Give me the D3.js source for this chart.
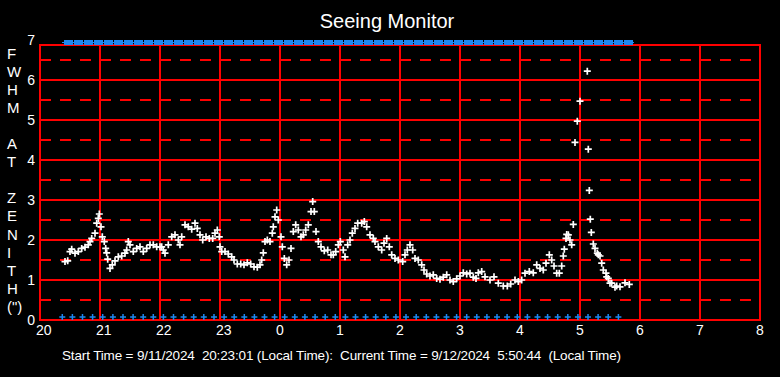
<!DOCTYPE html>
<html>
<head>
<meta charset="utf-8">
<script src="https://cdn.jsdelivr.net/npm/d3@7"></script>
<style>
  body { margin: 0; background: #000; }
  svg { display: block; }
  text { font-family: "Liberation Sans", Arial, sans-serif; fill: #fff; }
</style>
</head>
<body>
<svg id="chart" width="780" height="377"></svg>
<script>
// minutes after 20:00 local time, FWHM at zenith (arcsec)
var obsMinutes = [25, 27.7, 30, 31.7, 35, 38.3, 41.7, 45, 48.3, 50, 51.7, 55, 56.7, 58.3, 59.3, 61, 62.3, 64.3, 65.7, 66.7, 67.7, 70, 72.3, 75, 78.3, 81.7, 85, 86.7, 88.3, 90, 93.3, 96.7, 100, 103.3, 106.7, 110, 113.3, 116.7, 120, 121.7, 123.3, 125, 128.3, 131.7, 135, 138.3, 140, 141.7, 145, 148.3, 151.7, 155, 157.3, 160, 162.7, 166, 169.3, 172.7, 175, 177.3, 179.3, 180, 181.7, 185, 188.3, 191.7, 194, 197.3, 200.7, 204, 207.3, 210.7, 214, 217.3, 220, 221.7, 223.3, 225, 227.3, 230, 232.3, 233.3, 235, 236.7, 238.3, 241, 242.3, 244.3, 246.7, 249, 251, 253.3, 255.7, 258.3, 261, 263.3, 265.7, 268.3, 271, 272.7, 274.3, 276, 278.3, 281, 284.3, 287.7, 291, 293.3, 295.7, 298.3, 300.3, 303.3, 305, 307.7, 310, 312.3, 315, 317.7, 321.7, 324.3, 326.7, 330, 333.3, 335, 338.3, 341.7, 344, 346.7, 349.3, 351.7, 355, 358.3, 362.7, 365, 367.3, 370, 372.7, 375, 378.3, 381.7, 384, 386.7, 390, 393.3, 396.7, 400, 403.3, 406.7, 410, 413.3, 416.7, 420, 423.3, 426.7, 430, 433.3, 436, 438.3, 441.7, 445, 450, 454, 458.3, 463.3, 467.3, 470.7, 475, 478.3, 481.7, 485, 489.3, 493.3, 496.7, 500, 503.3, 506, 509.3, 511.7, 514, 516.7, 519.3, 521.7, 523.3, 524.3, 526, 526.7, 528.3, 530, 531.7, 533.3, 535, 537.3, 540, 547.3, 548.3, 549.3, 550.3, 551.3, 553.3, 555, 557.3, 558.3, 560, 561.7, 563.3, 566, 566.7, 568.3, 570, 571.7, 575, 576.7, 580, 585, 589.3];
var fwhm = [1.46, 1.48, 1.71, 1.77, 1.67, 1.71, 1.79, 1.82, 1.88, 1.96, 2.04, 2.17, 2.42, 2.54, 2.65, 2.33, 2.08, 1.96, 1.79, 1.68, 1.52, 1.29, 1.38, 1.48, 1.58, 1.60, 1.67, 1.75, 1.96, 1.88, 1.71, 1.79, 1.83, 1.71, 1.79, 1.88, 1.88, 1.83, 1.83, 1.83, 1.75, 1.67, 1.88, 2.08, 2.13, 2.00, 1.88, 2.08, 2.38, 2.33, 2.27, 2.42, 2.29, 2.13, 2.00, 2.08, 2.04, 2.04, 2.17, 2.25, 2.08, 1.83, 1.71, 1.71, 1.65, 1.58, 1.50, 1.40, 1.40, 1.38, 1.43, 1.40, 1.33, 1.32, 1.38, 1.50, 1.68, 1.96, 2.00, 1.96, 2.17, 2.33, 2.58, 2.75, 2.50, 2.08, 1.83, 1.54, 1.38, 1.50, 1.79, 2.21, 2.38, 2.25, 2.08, 2.13, 2.25, 2.38, 2.71, 2.96, 2.71, 2.21, 1.96, 1.83, 1.73, 1.75, 1.63, 1.63, 1.71, 1.88, 1.96, 1.75, 1.58, 1.88, 2.00, 2.17, 2.29, 2.42, 2.42, 2.46, 2.33, 2.13, 2.04, 1.96, 1.83, 1.75, 1.92, 2.04, 1.83, 1.63, 1.54, 1.50, 1.46, 1.63, 1.75, 1.88, 1.75, 1.54, 1.50, 1.38, 1.25, 1.15, 1.10, 1.13, 1.04, 1.02, 1.07, 1.13, 1.00, 0.96, 1.03, 1.10, 1.18, 1.15, 1.17, 1.07, 1.04, 1.18, 1.21, 1.08, 1.00, 1.08, 0.92, 0.85, 0.85, 0.90, 1.00, 0.96, 1.00, 1.17, 1.21, 1.18, 1.38, 1.29, 1.25, 1.42, 1.63, 1.50, 1.35, 1.17, 1.17, 1.35, 1.60, 1.77, 2.04, 2.14, 2.13, 2.00, 1.88, 2.39, 4.44, 4.97, 5.47, 6.22, 4.27, 3.24, 2.52, 2.19, 1.90, 1.79, 1.67, 1.63, 1.60, 1.42, 1.25, 1.17, 1.08, 1.04, 0.92, 0.92, 0.82, 0.85, 0.83, 0.93, 0.89];
// status markers (minutes after 20:00)
var topMarkMinutes = [28, 38, 48, 58, 68, 78, 88, 98, 108, 118, 128, 138, 148, 158, 168, 178, 188, 198, 208, 218, 228, 238, 248, 258, 268, 278, 288, 298, 308, 318, 328, 338, 348, 358, 368, 378, 388, 398, 408, 418, 428, 438, 448, 458, 468, 478, 488, 498, 508, 518, 528, 538, 548, 558, 568, 578, 588];
var bottomMarkMinutes = [22.3, 32.4, 42.5, 52.6, 62.7, 72.9, 83.0, 93.1, 103.2, 113.3, 123.4, 133.5, 143.6, 153.7, 163.8, 174.0, 184.1, 194.2, 204.3, 214.4, 224.5, 234.6, 244.7, 254.8, 264.9, 275.1, 285.2, 295.3, 305.4, 315.5, 325.6, 335.7, 345.8, 355.9, 366.0, 376.2, 386.3, 396.4, 406.5, 416.6, 426.7, 436.8, 446.9, 457.0, 467.1, 477.3, 487.4, 497.5, 507.6, 517.7, 527.8, 537.9, 548.0, 558.1, 568.2, 578.4];
var hourTicks = [20, 21, 22, 23, 24, 25, 26, 27, 28, 29, 30, 31, 32];
var fwhmTicks = [0, 1, 2, 3, 4, 5, 6, 7];
var halfTicks = [0.5, 1.5, 2.5, 3.5, 4.5, 5.5, 6.5];
var yLabelLetters = ["F", "W", "H", "M", "", "A", "T", "", "Z", "E", "N", "I", "T", "H", "(\")"];
var titleText = "Seeing Monitor";
var footerText = "Start Time = 9/11/2024  20:23:01 (Local Time):  Current Time = 9/12/2024  5:50:44  (Local Time)";

var red = "#ff0000", blue = "#1e88f0";
var svg = d3.select("#chart");
svg.append("rect").attr("width", 780).attr("height", 377).attr("fill", "#000");

var x = d3.scaleLinear().domain([20, 32]).range([40, 760]);
var y = d3.scaleLinear().domain([0, 7]).range([320, 40]);
var plotTop = 45;
function hr(m) { return 20 + m / 60; }

var grid = svg.append("g").attr("shape-rendering", "crispEdges");
//dashed half lines
grid.selectAll(".half").data(halfTicks).enter().append("line")
    .attr("x1", x(20)).attr("x2", x(32))
    .attr("y1", function(d) { return y(d); }).attr("y2", function(d) { return y(d); })
    .attr("stroke", red).attr("stroke-width", 1.4).attr("stroke-dasharray", "11,9");
//solid lines
grid.selectAll(".hline").data(fwhmTicks.filter(function(d) { return d > 0 && d < 7; })).enter().append("line")
    .attr("x1", x(20)).attr("x2", x(32))
    .attr("y1", function(d) { return y(d); }).attr("y2", function(d) { return y(d); })
    .attr("stroke", red).attr("stroke-width", 1.4);
grid.selectAll(".vline").data(hourTicks).enter().append("line")
    .attr("x1", function(d) { return x(d); }).attr("x2", function(d) { return x(d); })
    .attr("y1", plotTop).attr("y2", y(0))
    .attr("stroke", red).attr("stroke-width", 1.4);
grid.append("rect")
    .attr("x", x(20)).attr("y", plotTop)
    .attr("width", x(32) - x(20)).attr("height", y(0) - plotTop)
    .attr("fill", "none").attr("stroke", red).attr("stroke-width", 1.4);

//tick labels
svg.selectAll(".xl").data(hourTicks).enter().append("text")
    .attr("x", function(d) { return x(d) - 4; }).attr("y", 335)
    .style("font-size", "14px")
    .text(function(d) { return d % 24; });
svg.selectAll(".yl").data(fwhmTicks).enter().append("text")
    .attr("x", 35).attr("y", function(d) { return y(d); })
    .attr("dy", "0.36em").attr("text-anchor", "end")
    .style("font-size", "14px")
    .text(function(d) { return d; });
svg.selectAll(".yt").data(yLabelLetters).enter().append("text")
    .attr("x", 7).attr("y", function(d, i) { return 58.5 + i * 18.1; })
    .style("font-size", "15px")
    .text(function(d) { return d; });

svg.append("text").attr("x", 387).attr("y", 28).attr("text-anchor", "middle")
    .style("font-size", "20px").text(titleText);
svg.append("text").attr("x", 62).attr("y", 360)
    .attr("xml:space", "preserve").style("white-space", "pre")
    .attr("textLength", 559).attr("lengthAdjust", "spacing")
    .style("font-size", "13.5px").text(footerText);

//status markers, top
var topG = svg.append("g").attr("fill", blue).attr("shape-rendering", "crispEdges");
topG.append("rect")
    .attr("x", x(hr(topMarkMinutes[0])) - 6).attr("y", y(7) + 2)
    .attr("width", x(hr(topMarkMinutes[topMarkMinutes.length - 1])) - x(hr(topMarkMinutes[0])) + 12)
    .attr("height", 1);
topG.selectAll(".tm").data(topMarkMinutes).enter().append("rect")
    .attr("x", function(d) { return x(hr(d)) - 4.5; }).attr("y", y(7))
    .attr("width", 9).attr("height", plotTop - y(7));
//status markers, bottom
svg.append("g").selectAll(".bm").data(bottomMarkMinutes).enter().append("path")
    .attr("transform", function(d) { return "translate(" + x(hr(d)) + "," + (y(0) - 3) + ")"; })
    .attr("d", "M-3,0H3M0,-3V3")
    .attr("stroke", blue).attr("stroke-width", 1.5);

//seeing points
var pts = obsMinutes.map(function(m, i) { return { t: hr(m), v: fwhm[i] }; });
svg.append("g").selectAll(".pt").data(pts).enter().append("path")
    .attr("transform", function(d) { return "translate(" + x(d.t) + "," + y(d.v) + ")"; })
    .attr("d", "M-3.5,0H3.5M0,-3.5V3.5")
    .attr("stroke", "#fff").attr("stroke-width", 1.7);
</script>
</body>
</html>
